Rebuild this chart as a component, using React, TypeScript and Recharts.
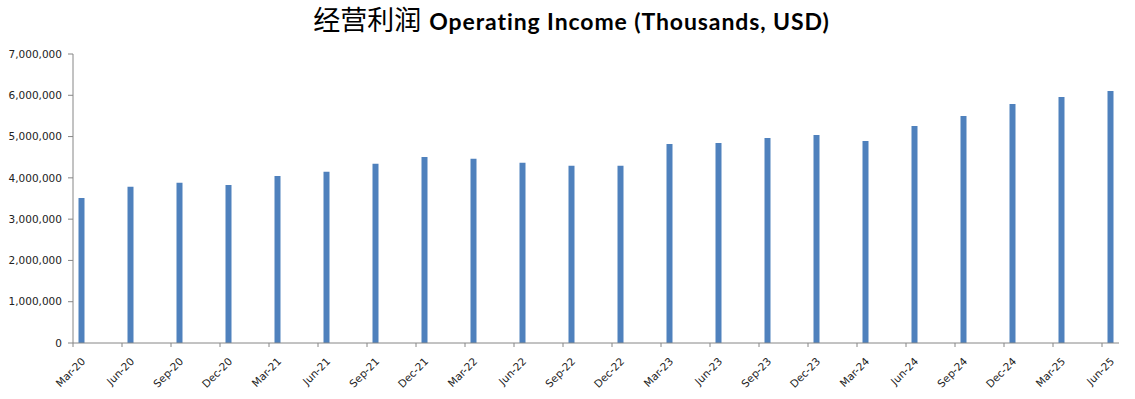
import React from 'react';
import { BarChart, Bar, XAxis, YAxis } from 'recharts';

// quarterly operating income, thousands USD
const quarters = [
  'Mar-20', 'Jun-20', 'Sep-20', 'Dec-20',
  'Mar-21', 'Jun-21', 'Sep-21', 'Dec-21',
  'Mar-22', 'Jun-22', 'Sep-22', 'Dec-22',
  'Mar-23', 'Jun-23', 'Sep-23', 'Dec-23',
  'Mar-24', 'Jun-24', 'Sep-24', 'Dec-24',
  'Mar-25', 'Jun-25',
];
const operatingIncome = [
  3515000, 3782000, 3879000, 3830000,
  4048000, 4145000, 4339000, 4508000,
  4460000, 4363000, 4291000, 4291000,
  4823000, 4847000, 4968000, 5040000,
  4895000, 5258000, 5500000, 5790000,
  5960000, 6105000,
];
const yTicks = [0, 1000000, 2000000, 3000000, 4000000, 5000000, 6000000, 7000000];

const data = quarters.map((q, i) => ({ quarter: q, income: operatingIncome[i] }));

const AXIS = '#868686';
const TEXT = '#222';
const FONT = '"DejaVu Sans", sans-serif';

// Excel-style: tick sits at the band start, label hangs off to the right of it
const QuarterTick = (props: any) => {
  const { x, y, payload } = props;
  const tx = x - 8;
  const ax = tx + 13;
  const ay = y + 19;
  return (
    <g>
      <line x1={tx} y1={y} x2={tx} y2={y + 4} stroke={AXIS} />
      <text
        x={ax}
        y={ay}
        textAnchor="end"
        fontSize={10.5}
        fontFamily={FONT}
        fill={TEXT}
        transform={`rotate(-45, ${ax}, ${ay})`}
      >
        {payload.value}
      </text>
    </g>
  );
};

export default function App() {
  return (
    <div style={{ position: 'absolute', left: 0, top: 0, width: 1135, height: 399, background: '#fff' }}>
      <svg width={1135} height={45} style={{ position: 'absolute', left: 0, top: 0 }}>
        <text x={571.5} y={30} textAnchor="middle" fill="#000">
          <tspan fontFamily='"Noto Sans CJK SC"' fontSize={27}>经营利润</tspan>
          <tspan
            dx={8}
            fontFamily="Lato, sans-serif"
            fontWeight="bold"
            fontSize={23}
            letterSpacing={0.9}
          >
            Operating Income (Thousands, USD)
          </tspan>
        </text>
      </svg>
      <BarChart
        width={1135}
        height={399}
        data={data}
        margin={{ top: 54, right: 16, bottom: 6, left: 0 }}
        style={{ position: 'absolute', left: 0, top: 0 }}
      >
        <XAxis
          dataKey="quarter"
          interval={0}
          tickSize={0}
          tickMargin={0}
          tickLine={false}
          axisLine={{ stroke: AXIS }}
          height={50}
          padding={{ left: -16.5, right: -15.5 }}
          tick={<QuarterTick />}
        />
        <YAxis
          width={73}
          domain={[0, 7000000]}
          ticks={yTicks}
          interval={0}
          tickSize={5}
          tickMargin={6}
          axisLine={{ stroke: AXIS }}
          tickLine={{ stroke: AXIS }}
          tickFormatter={(v: number) => v.toLocaleString('en-US')}
          tick={{ fontSize: 10.5, fontFamily: FONT, fill: TEXT }}
        />
        <Bar dataKey="income" fill="#4F81BD" barSize={6} isAnimationActive={false} />
      </BarChart>
    </div>
  );
}
